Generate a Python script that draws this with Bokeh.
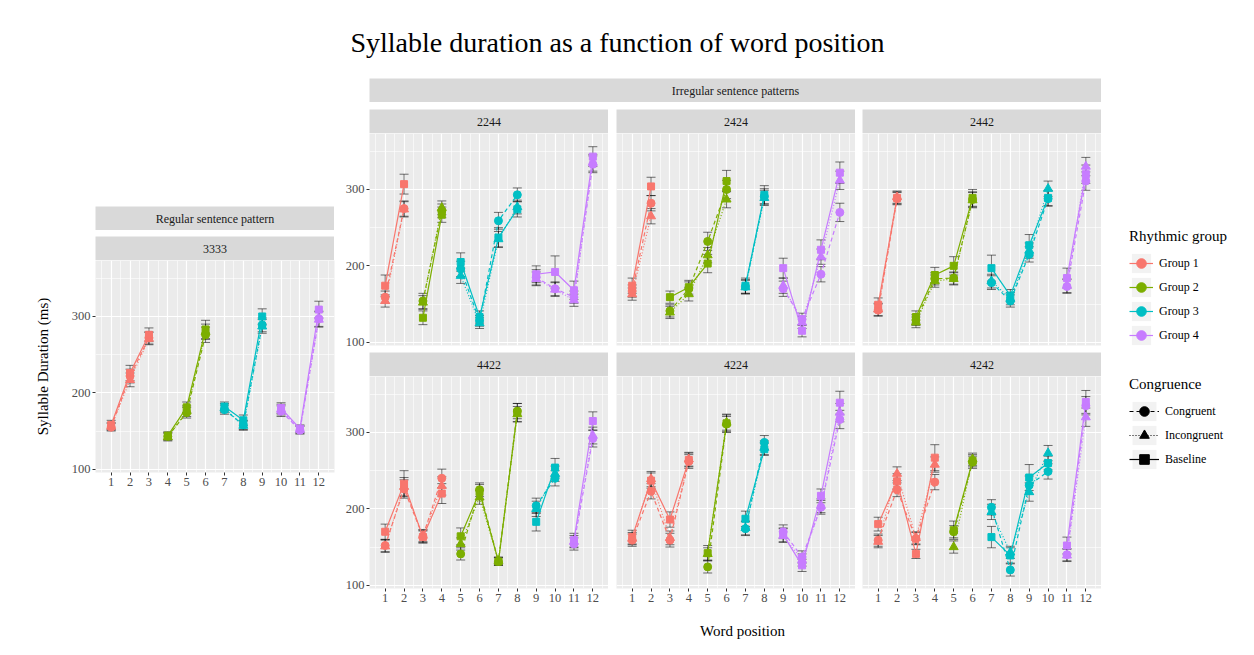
from bokeh.plotting import figure
from bokeh.layouts import row, column
from bokeh.models import (ColumnDataSource, Whisker, TeeHead, Label, FixedTicker,
                          Spacer, Legend, LegendItem, Range1d)
from bokeh.embed import file_html
from bokeh.resources import INLINE
from bokeh.core.validation import silence
from bokeh.core.validation.warnings import MISSING_RENDERERS

silence(MISSING_RENDERERS, True)

FONT = "Liberation Serif"

# ---------------- data ----------------
words = [1, 2, 3, 4, 5, 6, 7, 8, 9, 10, 11, 12]
tick_labels = ["1", "2", "3", "4", "5", "6", "7", "8", "9", "10", "11", "12"]
y_ticks = [100, 200, 300]
y_tick_labels = ["100", "200", "300"]
y_minor = [150, 250, 350]
x_minor = [0.5, 1.5, 2.5, 3.5, 4.5, 5.5, 6.5, 7.5, 8.5, 9.5, 10.5, 11.5, 12.5]

group_names = ["Group 1", "Group 2", "Group 3", "Group 4"]
group_colors = ["#F8766D", "#7CAE00", "#00BFC4", "#C77CFF"]
cond_names = ["Congruent", "Incongruent", "Baseline"]

# 3333
groups_3333 = [1, 1, 1, 2, 2, 2, 3, 3, 3, 4, 4, 4]
base_3333 = [158, 226, 276, 144, 181, 283, 182, 164, 300, 180, 153, 309]
cong_3333 = [155, 222, 272, 143, 174, 276, 178, 158, 289, 176, 151, 297]
incong_3333 = [156, 217, 271, 142, 176, 280, 180, 157, 287, 178, 152, 296]
eb_3333 = [6, 10, 9, 5, 7, 12, 6, 7, 10, 7, 5, 11]
ec_3333 = [5, 9, 8, 5, 7, 10, 6, 6, 9, 7, 5, 10]
ei_3333 = [5, 9, 8, 5, 7, 10, 6, 6, 9, 7, 5, 10]

# 2244
groups_2244 = [1, 1, 2, 2, 3, 3, 3, 3, 4, 4, 4, 4]
base_2244 = [174, 307, 132, 267, 205, 133, 237, 274, 189, 192, 168, 343]
cong_2244 = [159, 275, 154, 272, 196, 128, 259, 293, 185, 170, 159, 333]
incong_2244 = [154, 274, 152, 276, 187, 125, 235, 277, 183, 169, 155, 335]
eb_2244 = [14, 13, 9, 10, 12, 8, 13, 10, 11, 21, 12, 13]
ec_2244 = [8, 10, 10, 9, 10, 7, 11, 9, 10, 9, 8, 11]
ei_2244 = [8, 10, 9, 9, 10, 7, 10, 9, 9, 9, 8, 11]

# 2424
groups_2424 = [1, 1, 2, 2, 2, 2, 3, 3, 4, 4, 4, 4]
base_2424 = [174, 304, 159, 172, 203, 311, 174, 293, 197, 115, 221, 322]
cong_2424 = [167, 282, 141, 170, 232, 300, 173, 291, 170, 130, 189, 270]
incong_2424 = [163, 265, 139, 163, 214, 287, 172, 289, 174, 126, 212, 312]
eb_2424 = [10, 12, 8, 9, 12, 14, 10, 12, 13, 8, 13, 14]
ec_2424 = [8, 10, 8, 9, 12, 12, 9, 10, 10, 8, 10, 12]
ei_2424 = [8, 10, 8, 9, 10, 11, 9, 10, 10, 8, 10, 12]

# 2442
groups_2442 = [1, 1, 2, 2, 2, 2, 3, 3, 3, 3, 4, 4]
base_2442 = [149, 289, 133, 188, 200, 289, 197, 161, 227, 289, 184, 320]
cong_2442 = [142, 288, 129, 183, 184, 287, 178, 154, 215, 288, 173, 311]
incong_2442 = [143, 290, 126, 180, 183, 286, 180, 157, 220, 301, 174, 330]
eb_2442 = [9, 8, 8, 10, 12, 11, 17, 8, 14, 10, 13, 12]
ec_2442 = [8, 8, 7, 8, 8, 10, 9, 8, 10, 10, 9, 12]
ei_2442 = [8, 8, 7, 8, 8, 10, 9, 8, 10, 10, 9, 12]

# 4422
groups_4422 = [1, 1, 1, 1, 2, 2, 2, 2, 3, 3, 4, 4]
base_4422 = [170, 233, 163, 220, 164, 222, 131, 326, 183, 254, 159, 315]
cong_4422 = [152, 226, 164, 240, 141, 225, 131, 328, 204, 240, 154, 292]
incong_4422 = [151, 229, 165, 230, 154, 215, 132, 324, 200, 246, 157, 296]
eb_4422 = [10, 17, 8, 13, 11, 10, 5, 12, 12, 12, 9, 12]
ec_4422 = [8, 12, 8, 12, 8, 9, 5, 10, 10, 10, 8, 11]
ei_4422 = [8, 12, 8, 12, 8, 9, 5, 10, 10, 10, 8, 11]

# 4224
groups_4224 = [1, 1, 1, 1, 2, 2, 3, 3, 4, 4, 4, 4]
base_4224 = [163, 237, 186, 264, 142, 312, 187, 278, 166, 126, 217, 339]
cong_4224 = [159, 223, 159, 262, 124, 311, 174, 287, 170, 137, 202, 317]
incong_4224 = [161, 239, 162, 265, 141, 313, 175, 280, 165, 133, 204, 326]
eb_4224 = [9, 10, 10, 9, 10, 12, 10, 8, 9, 8, 9, 15]
ec_4224 = [8, 10, 9, 9, 8, 10, 9, 9, 9, 8, 9, 12]
ei_4224 = [8, 10, 9, 9, 8, 10, 9, 9, 9, 8, 9, 12]

# 4242
groups_4242 = [1, 1, 1, 1, 2, 2, 3, 3, 3, 3, 4, 4]
base_4242 = [180, 236, 141, 267, 172, 263, 163, 139, 241, 260, 152, 340]
cong_4242 = [159, 225, 161, 235, 170, 261, 202, 120, 231, 249, 140, 335]
incong_4242 = [157, 246, 162, 258, 150, 265, 196, 143, 222, 273, 139, 320]
eb_4242 = [9, 10, 6, 17, 12, 8, 14, 10, 17, 9, 11, 15]
ec_4242 = [8, 9, 8, 10, 8, 8, 10, 8, 12, 10, 8, 12]
ei_4242 = [8, 9, 8, 10, 8, 8, 10, 8, 12, 10, 8, 12]

PATTERNS = {
    "3333": (groups_3333, cong_3333, incong_3333, base_3333, ec_3333, ei_3333, eb_3333),
    "2244": (groups_2244, cong_2244, incong_2244, base_2244, ec_2244, ei_2244, eb_2244),
    "2424": (groups_2424, cong_2424, incong_2424, base_2424, ec_2424, ei_2424, eb_2424),
    "2442": (groups_2442, cong_2442, incong_2442, base_2442, ec_2442, ei_2442, eb_2442),
    "4422": (groups_4422, cong_4422, incong_4422, base_4422, ec_4422, ei_4422, eb_4422),
    "4224": (groups_4224, cong_4224, incong_4224, base_4224, ec_4224, ei_4224, eb_4224),
    "4242": (groups_4242, cong_4242, incong_4242, base_4242, ec_4242, ei_4242, eb_4242),
}

# ---------------- styling ----------------
COND_MARKER = ["circle", "triangle", "square"]
COND_DASH = ["4 3", "1 2", "solid"]
COND_SIZE = [8, 9, 7]

PANEL_W = 239
PANEL_H = 212
X_RANGE = (0.17, 12.83)
Y_RANGE = (95.7, 373.3)
AX_BOTTOM = 22
ROW1_BOTTOM = 7


def style_grid(p):
    p.xgrid.ticker = FixedTicker(ticks=words, minor_ticks=x_minor)
    p.ygrid.ticker = FixedTicker(ticks=y_ticks, minor_ticks=y_minor)
    for g in (p.xgrid[0], p.ygrid[0]):
        g.grid_line_color = "white"
        g.grid_line_width = 1.2
        g.minor_grid_line_color = "white"
        g.minor_grid_line_width = 0.6


def style_axis(ax):
    ax.axis_line_color = None
    ax.major_tick_in = 0
    ax.major_tick_out = 3
    ax.minor_tick_in = 0
    ax.minor_tick_out = 0
    ax.major_tick_line_color = "#333333"
    ax.major_label_text_font = FONT
    ax.major_label_text_font_size = "12.5px"
    ax.major_label_text_color = "#4d4d4d"
    ax.major_label_standoff = 2


def make_panel(name, show_x, show_y, left_pad=0, right_pad=0, ylabel=None, bottom=None):
    if bottom is None:
        bottom = AX_BOTTOM if show_x else 0
    p = figure(width=PANEL_W + left_pad + right_pad, height=PANEL_H + bottom,
               x_range=Range1d(*X_RANGE), y_range=Range1d(*Y_RANGE),
               toolbar_location=None, output_backend="svg", title=None,
               x_axis_location="below" if show_x else None,
               y_axis_location="left" if show_y else None,
               min_border_left=left_pad, min_border_right=right_pad,
               min_border_top=0, min_border_bottom=bottom,
               background_fill_color="#ebebeb", border_fill_color="white",
               outline_line_color=None)
    style_grid(p)
    if show_x:
        ax = p.xaxis[0]
        ax.ticker = FixedTicker(ticks=words)
        ax.major_label_overrides = dict(zip(words, tick_labels))
        style_axis(ax)
    if show_y:
        ay = p.yaxis[0]
        ay.ticker = FixedTicker(ticks=y_ticks)
        ay.major_label_overrides = dict(zip(y_ticks, y_tick_labels))
        style_axis(ay)
        if ylabel:
            ay.axis_label = ylabel
            ay.axis_label_text_font = FONT
            ay.axis_label_text_font_size = "15px"
            ay.axis_label_text_font_style = "normal"
            ay.axis_label_text_color = "black"
            ay.axis_label_standoff = 18

    groups, cong, incong, base, ec, ei, eb = PATTERNS[name]
    series = [cong, incong, base]
    errs = [ec, ei, eb]

    # lines
    for ci in (2, 0, 1):
        vals = series[ci]
        for gi in range(4):
            idx = [i for i, g in enumerate(groups) if g == gi + 1]
            if not idx:
                continue
            p.line([words[i] for i in idx], [vals[i] for i in idx],
                   line_color=group_colors[gi], line_width=1.2,
                   line_dash=COND_DASH[ci])
    # points
    for ci in (0, 1, 2):
        src = ColumnDataSource(dict(x=words, y=series[ci],
                                    c=[group_colors[g - 1] for g in groups]))
        p.scatter("x", "y", source=src, marker=COND_MARKER[ci], size=COND_SIZE[ci],
                  fill_color="c", line_color="c")
    # error bars
    for ci in (0, 1, 2):
        vals, e = series[ci], errs[ci]
        src = ColumnDataSource(dict(x=words,
                                    lo=[v - d for v, d in zip(vals, e)],
                                    hi=[v + d for v, d in zip(vals, e)]))
        p.add_layout(Whisker(source=src, base="x", lower="lo", upper="hi",
                             dimension="height", line_color="black", line_alpha=0.55,
                             line_width=1,
                             upper_head=TeeHead(size=9, line_color="black", line_alpha=0.55),
                             lower_head=TeeHead(size=9, line_color="black", line_alpha=0.55)))
    return p


def make_strip(text, w, h=24):
    s = figure(width=w, height=h, x_range=Range1d(0, 1), y_range=Range1d(0, 1),
               toolbar_location=None, output_backend="svg", title=None,
               x_axis_location=None, y_axis_location=None,
               min_border_left=0, min_border_right=0, min_border_top=0, min_border_bottom=0,
               background_fill_color="#d9d9d9", border_fill_color="#d9d9d9",
               outline_line_color=None)
    s.xgrid.visible = False
    s.ygrid.visible = False
    s.add_layout(Label(x=0.5, y=0.5, text=text, text_align="center",
                       text_baseline="middle", text_font=FONT,
                       text_font_size="12px", text_color="#1a1a1a"))
    return s


def blank(w, h):
    b = figure(width=w, height=h, x_range=Range1d(0, w), y_range=Range1d(0, h),
               toolbar_location=None, output_backend="svg", title=None,
               x_axis_location=None, y_axis_location=None,
               min_border_left=0, min_border_right=0, min_border_top=0, min_border_bottom=0,
               background_fill_color="white", border_fill_color="white",
               outline_line_color=None)
    b.xgrid.visible = False
    b.ygrid.visible = False
    return b


# ---------------- title ----------------
title_fig = blank(1238, 70)
title_fig.add_layout(Label(x=609, y=36, text="Syllable duration as a function of word position",
                           text_align="center", text_baseline="middle", text_font=FONT,
                           text_font_size="28px", text_color="black"))

# ---------------- left column ----------------
p3333 = make_panel("3333", True, True, left_pad=87, right_pad=4,
                   ylabel="Syllable Duration (ms)")
left_col = column(
    Spacer(width=330, height=128),
    row(Spacer(width=87, height=24), make_strip("Regular sentence pattern", 239),
        Spacer(width=4, height=24)),
    Spacer(width=330, height=6),
    row(Spacer(width=87, height=24), make_strip("3333", 239), Spacer(width=4, height=24)),
    p3333,
)

# ---------------- right column ----------------
top_names = ["2244", "2424", "2442"]
bot_names = ["4422", "4224", "4242"]


def strip_row(names):
    return row(Spacer(width=31, height=24), make_strip(names[0], 239),
               Spacer(width=8, height=24), make_strip(names[1], 239),
               Spacer(width=7, height=24), make_strip(names[2], 239),
               Spacer(width=7, height=24))


def panel_row(names, show_x):
    bottom = AX_BOTTOM if show_x else ROW1_BOTTOM
    h = PANEL_H + bottom
    return row(make_panel(names[0], show_x, True, left_pad=31, bottom=bottom),
               Spacer(width=8, height=h),
               make_panel(names[1], show_x, False, bottom=bottom),
               Spacer(width=7, height=h),
               make_panel(names[2], show_x, False, bottom=bottom),
               Spacer(width=7, height=h))


xtitle_fig = blank(770, 30)
xtitle_fig.add_layout(Label(x=404, y=10, text="Word position", text_align="center",
                            text_baseline="middle", text_font=FONT,
                            text_font_size="15px", text_color="black"))

right_col = column(
    row(Spacer(width=31, height=24), make_strip("Irregular sentence patterns", 732),
        Spacer(width=7, height=24)),
    Spacer(width=770, height=7),
    strip_row(top_names),
    panel_row(top_names, False),
    strip_row(bot_names),
    panel_row(bot_names, True),
    xtitle_fig,
)

# ---------------- legends ----------------
def legend_fig(h, top, left):
    f = figure(width=138, height=h, x_range=Range1d(0, 1), y_range=Range1d(0, 1),
               toolbar_location=None, output_backend="svg", title=None,
               x_axis_location=None, y_axis_location=None,
               min_border_left=left, min_border_right=0, min_border_top=top,
               min_border_bottom=0, background_fill_color="white",
               border_fill_color="white", outline_line_color=None)
    f.xgrid.visible = False
    f.ygrid.visible = False
    return f


# legend key renderers hold one point placed outside the (0, 1) view so only the key shows
OFF = [5]

leg1 = legend_fig(294, 150, 21)
items1 = []
for name, col in zip(group_names, group_colors):
    bg = leg1.quad(left=OFF, right=[6], top=[6], bottom=OFF, fill_color="#f2f2f2",
                   line_color=None)
    ln = leg1.line(x=OFF, y=OFF, line_color=col, line_width=1.2)
    pt = leg1.scatter(x=OFF, y=OFF, marker="circle", size=8, fill_color=col, line_color=col)
    items1.append(LegendItem(label=name, renderers=[bg, ln, pt]))
L1 = Legend(items=items1, location="top_left", title="Rhythmic group",
            title_text_font=FONT, title_text_font_size="15px", title_text_font_style="normal",
            title_text_color="black", title_standoff=6,
            label_text_font=FONT, label_text_font_size="12px", label_text_color="black",
            glyph_width=24, glyph_height=24, label_height=24, spacing=0, padding=0,
            margin=0, label_standoff=6, border_line_color=None, background_fill_alpha=0)
leg1.add_layout(L1)

leg2 = legend_fig(268, 4, 15)
items2 = []
for ci, name in enumerate(cond_names):
    bg = leg2.quad(left=OFF, right=[6], top=[6], bottom=OFF, fill_color="#f2f2f2",
                   line_color=None)
    ln = leg2.line(x=OFF, y=OFF, line_color="black", line_width=1.2, line_dash=COND_DASH[ci])
    pt = leg2.scatter(x=OFF, y=OFF, marker=COND_MARKER[ci], size=8, fill_color="black",
                      line_color="black")
    items2.append(LegendItem(label=name, renderers=[bg, ln, pt]))
L2 = Legend(items=items2, location="top_left", title="Congruence",
            title_text_font=FONT, title_text_font_size="15px", title_text_font_style="normal",
            title_text_color="black", title_standoff=6,
            label_text_font=FONT, label_text_font_size="12px", label_text_color="black",
            glyph_width=30, glyph_height=24, label_height=24, spacing=0, padding=0,
            margin=0, label_standoff=6, border_line_color=None, background_fill_alpha=0)
leg2.add_layout(L2)

legend_col = column(leg1, leg2)

body = column(Spacer(width=1238, height=8), title_fig, row(left_col, right_col, legend_col))
root = row(Spacer(width=8, height=640), body)

open("out.html", "w").write(file_html(root, INLINE))
